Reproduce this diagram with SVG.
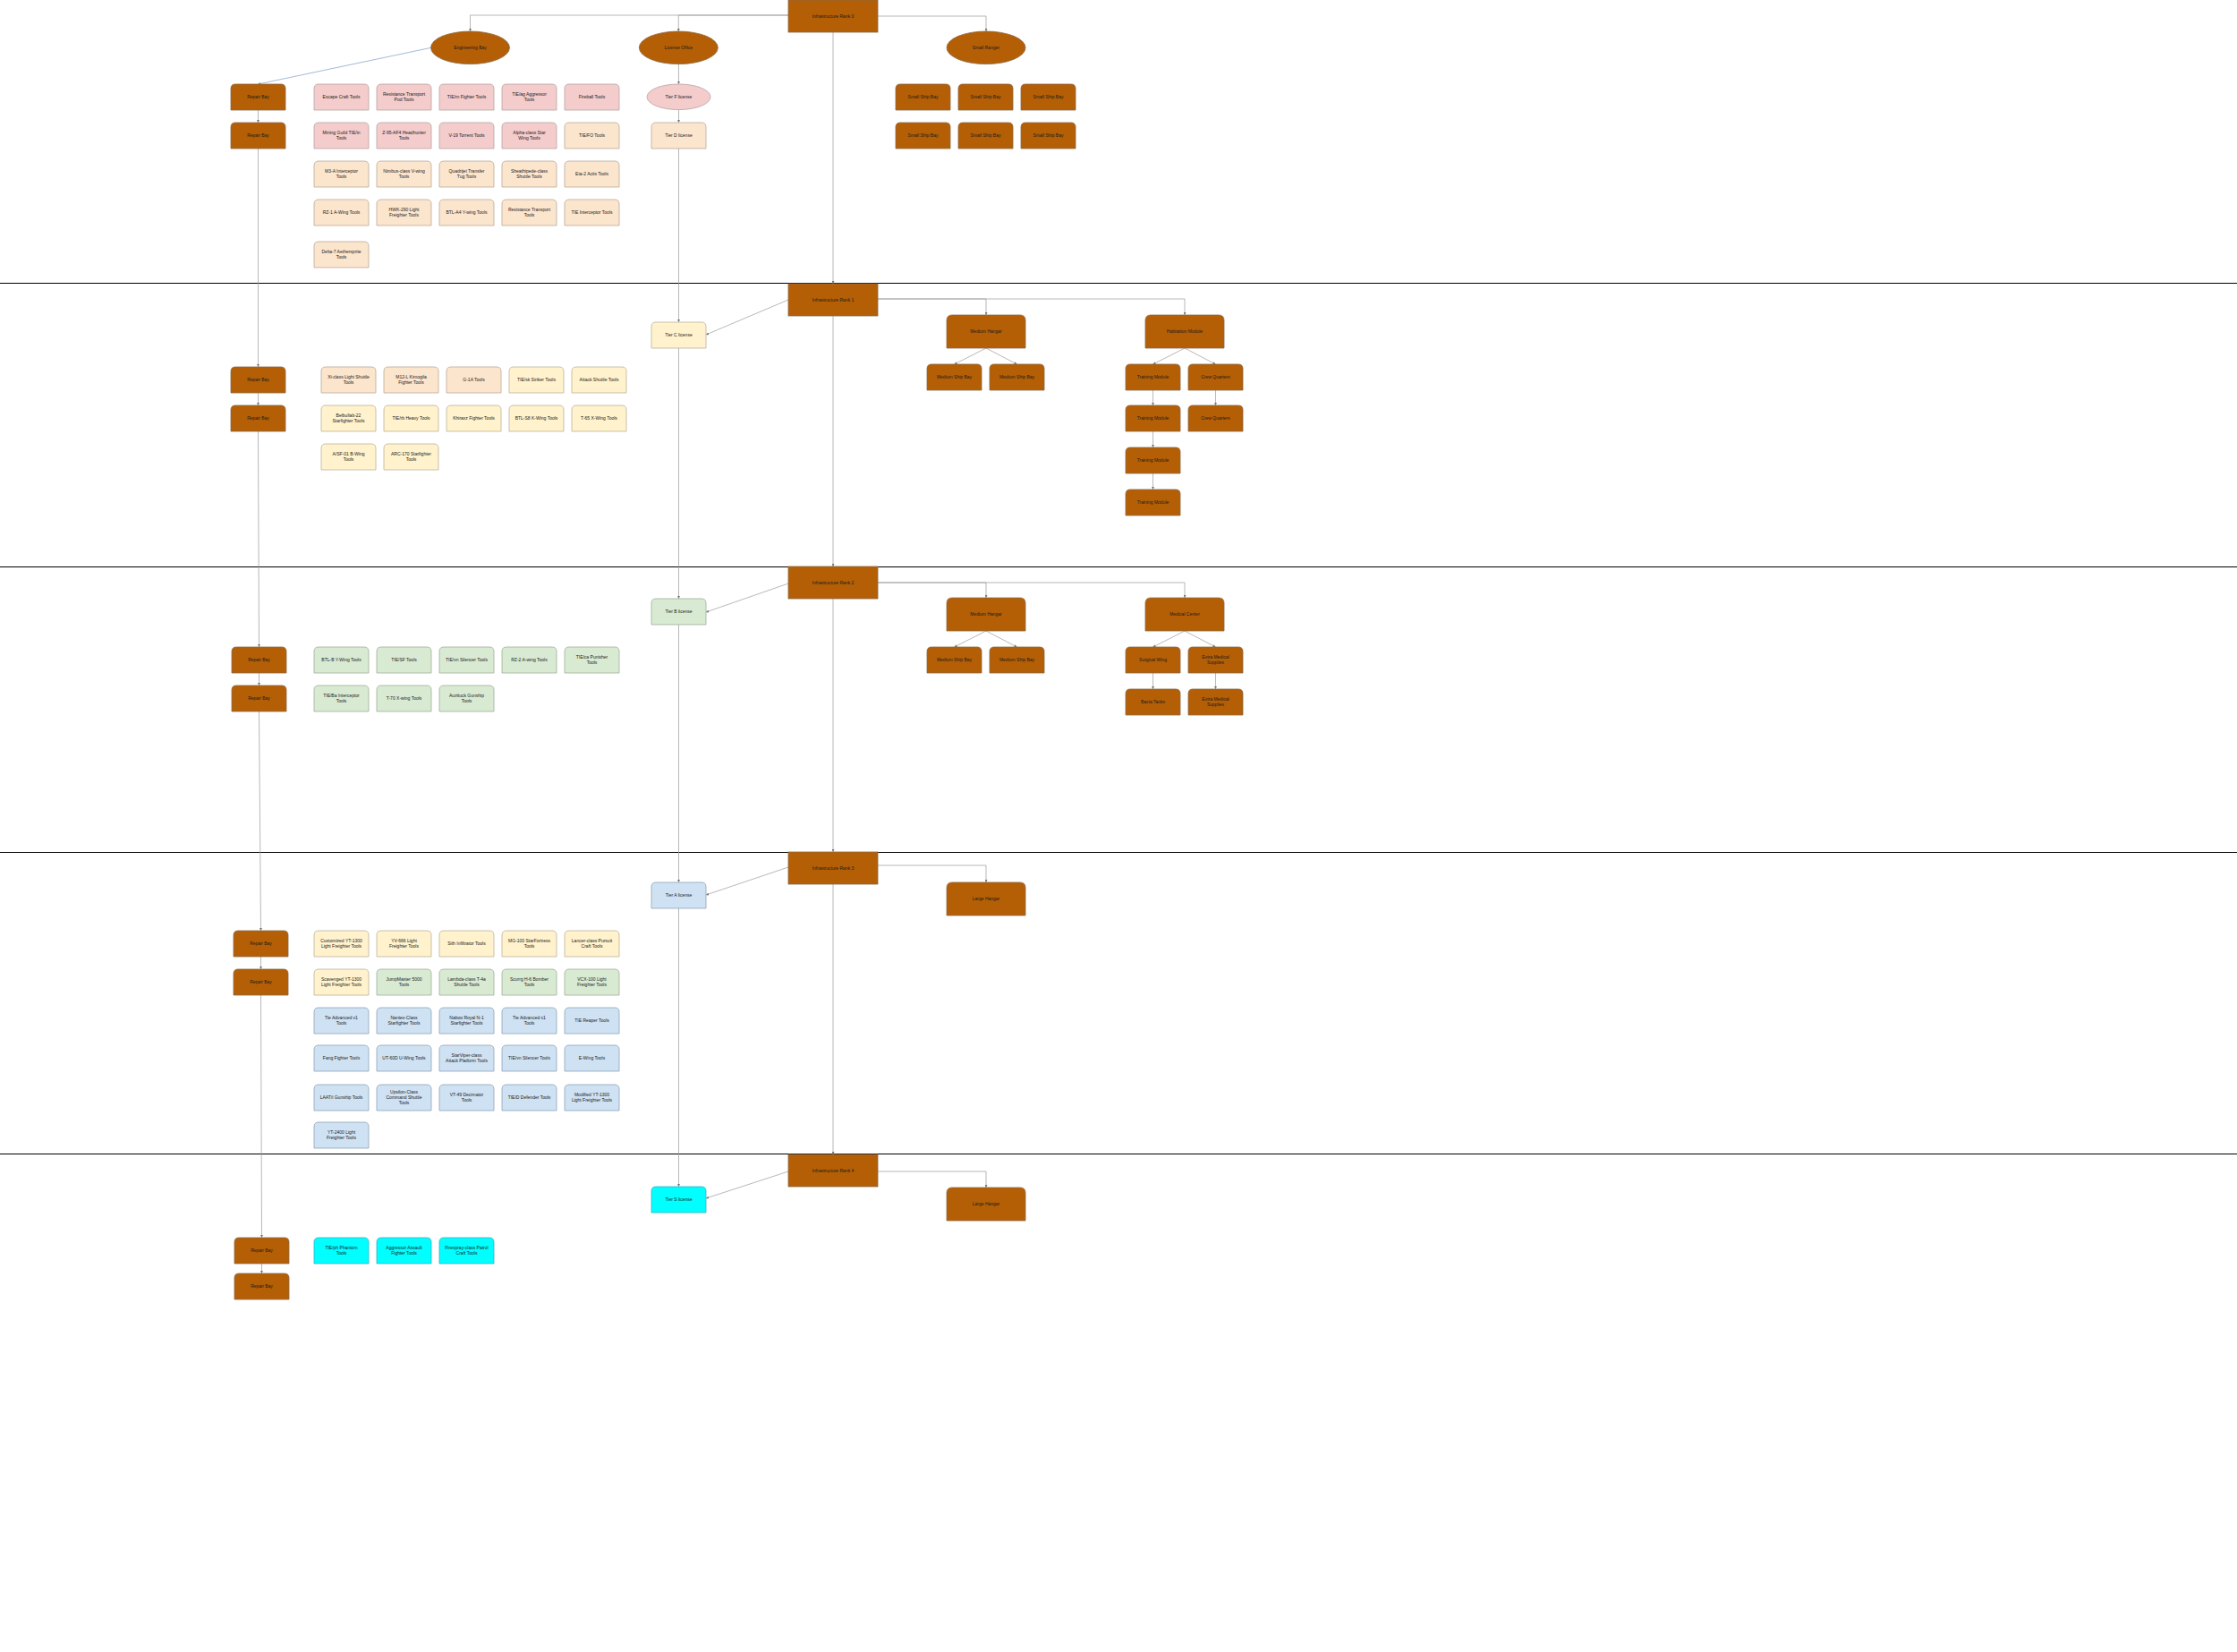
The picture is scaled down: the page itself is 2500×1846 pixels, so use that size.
<svg xmlns="http://www.w3.org/2000/svg" xmlns:xlink="http://www.w3.org/1999/xlink" width="2500" height="1846" viewBox="0 0 2500 1846">
<style>
.t{font-family:"Liberation Sans",Arial,sans-serif;font-size:5px;text-anchor:middle;fill:#1a1a1a}
.pk{fill:#f4cccc;stroke:#b8a3a3;stroke-width:0.8}
.pe{fill:#fce5cd;stroke:#b9aa99;stroke-width:0.8}
.ye{fill:#fff2cc;stroke:#bbb39a;stroke-width:0.8}
.gr{fill:#d9ead3;stroke:#9fae9a;stroke-width:0.8}
.bl{fill:#cfe2f3;stroke:#8fa3b8;stroke-width:0.8}
.cy{fill:#00ffff;stroke:#3ab0c0;stroke-width:0.8}
.br{fill:#b45f06;stroke:#8a6a4a;stroke-width:0.8}
.c{fill:none;stroke:#9a9a9a;stroke-width:0.7;marker-end:url(#a)}
.cb{fill:none;stroke:#7a9cc6;stroke-width:0.7;marker-end:url(#a)}
.sec{stroke:#000;stroke-width:1}
</style>
<defs>
<path id="tb" d="M0,29V5Q0,0 5,0H56Q61,0 61,5V29Z"/>
<path id="hb" d="M0,37V6Q0,0 6,0H82Q88,0 88,6V37Z"/>
<marker id="a" markerUnits="userSpaceOnUse" markerWidth="3" markerHeight="3" refX="3" refY="1.5" orient="auto"><path d="M0,0L3,1.5L0,3Z" fill="#777"/></marker>
</defs>
<rect width="2500" height="1846" fill="#fff"/>
<g id="sections">
<line class="sec" x1="0" y1="316.5" x2="2500" y2="316.5"/>
<line class="sec" x1="0" y1="633.5" x2="2500" y2="633.5"/>
<line class="sec" x1="0" y1="952.5" x2="2500" y2="952.5"/>
<line class="sec" x1="0" y1="1289.5" x2="2500" y2="1289.5"/>
</g>
<g id="connectors">
<polyline class="c" points="881,17 525.5,17 525.5,35"/>
<polyline class="c" points="881,17 758.3,17 758.3,35"/>
<polyline class="c" points="981,18 1102,18 1102,35"/>
<line class="cb" x1="481.7" y1="53.3" x2="288.5" y2="94"/>
<line class="c" x1="288.5" y1="123" x2="288.5" y2="137"/>
<line class="c" x1="288.5" y1="166" x2="288.5" y2="410"/>
<line class="c" x1="288.5" y1="439" x2="288.5" y2="453"/>
<line class="c" x1="288.5" y1="482" x2="289.5" y2="723"/>
<line class="c" x1="289.5" y1="752" x2="289.5" y2="766"/>
<line class="c" x1="289.5" y1="795" x2="291.5" y2="1040"/>
<line class="c" x1="291.5" y1="1069" x2="291.5" y2="1083"/>
<line class="c" x1="291.5" y1="1112" x2="292.5" y2="1383"/>
<line class="c" x1="292.5" y1="1412" x2="292.5" y2="1423"/>
<line class="c" x1="758.4" y1="71.7" x2="758.5" y2="94"/>
<line class="c" x1="758.5" y1="122.6" x2="758.5" y2="137"/>
<line class="c" x1="758.5" y1="166" x2="758.5" y2="360"/>
<line class="c" x1="758.5" y1="389" x2="758.5" y2="669"/>
<line class="c" x1="758.5" y1="698" x2="758.5" y2="986"/>
<line class="c" x1="758.5" y1="1015" x2="758.5" y2="1326"/>
<line class="c" x1="931" y1="36" x2="931" y2="317"/>
<line class="c" x1="931" y1="353" x2="931" y2="633"/>
<line class="c" x1="931" y1="669" x2="931" y2="952"/>
<line class="c" x1="931" y1="988" x2="931" y2="1290"/>
<line class="c" x1="881" y1="335" x2="789" y2="374"/>
<line class="c" x1="881" y1="652" x2="789" y2="684"/>
<line class="c" x1="881" y1="969" x2="789" y2="1000"/>
<line class="c" x1="881" y1="1309" x2="789" y2="1339"/>
<polyline class="c" points="981,334 1102,334 1102,352"/>
<polyline class="c" points="981,334 1324,334 1324,352"/>
<polyline class="c" points="981,651 1102,651 1102,668"/>
<polyline class="c" points="981,651 1324,651 1324,668"/>
<polyline class="c" points="981,967 1102,967 1102,986"/>
<polyline class="c" points="981,1309 1102,1309 1102,1327"/>
<line class="c" x1="1102" y1="389" x2="1066.5" y2="407"/>
<line class="c" x1="1102" y1="389" x2="1136.5" y2="407"/>
<line class="c" x1="1324" y1="389" x2="1288.5" y2="407"/>
<line class="c" x1="1324" y1="389" x2="1358.5" y2="407"/>
<line class="c" x1="1288.5" y1="436" x2="1288.5" y2="453"/>
<line class="c" x1="1288.5" y1="482" x2="1288.5" y2="500"/>
<line class="c" x1="1288.5" y1="529" x2="1288.5" y2="547"/>
<line class="c" x1="1358.5" y1="436" x2="1358.5" y2="453"/>
<line class="c" x1="1102" y1="705" x2="1066.5" y2="723"/>
<line class="c" x1="1102" y1="705" x2="1136.5" y2="723"/>
<line class="c" x1="1324" y1="705" x2="1288.5" y2="723"/>
<line class="c" x1="1324" y1="705" x2="1358.5" y2="723"/>
<line class="c" x1="1288.5" y1="752" x2="1288.5" y2="770"/>
<line class="c" x1="1358.5" y1="752" x2="1358.5" y2="770"/>
</g>

<!-- Rank 0 -->
<g id="rank0"><rect class="br" x="881" y="0" width="100" height="36"/><text class="t" x="931" y="19.8">Infrastructure Rank 0</text></g>
<g id="engineering-bay"><ellipse class="br" cx="525.5" cy="53.3" rx="44" ry="18.3"/><text class="t" x="525.5" y="55.1">Engineering Bay</text></g>
<g id="license-office"><ellipse class="br" cx="758.3" cy="53.3" rx="44" ry="18.3"/><text class="t" x="758.3" y="55.1">License Office</text></g>
<g id="small-ranger"><ellipse class="br" cx="1102" cy="53.3" rx="44" ry="18.3"/><text class="t" x="1102" y="55.1">Small Ranger</text></g>
<g id="tier-f"><ellipse class="pk" cx="758.5" cy="108.3" rx="35.5" ry="14.3"/><text class="t" x="758.5" y="110.1">Tier F license</text></g>
<g id="tier-d"><use href="#tb" x="728" y="137" class="pe"/><text class="t" x="758.5" y="153.3">Tier D license</text></g>
<g id="repair-0a"><use href="#tb" x="258" y="94" class="br"/><text class="t" x="288.5" y="110.3">Repair Bay</text></g>
<g id="repair-0b"><use href="#tb" x="258" y="137" class="br"/><text class="t" x="288.5" y="153.3">Repair Bay</text></g>
<g id="ssb-1"><use href="#tb" x="1001" y="94" class="br"/><text class="t" x="1031.5" y="110.3">Small Ship Bay</text></g>
<g id="ssb-2"><use href="#tb" x="1071" y="94" class="br"/><text class="t" x="1101.5" y="110.3">Small Ship Bay</text></g>
<g id="ssb-3"><use href="#tb" x="1141" y="94" class="br"/><text class="t" x="1171.5" y="110.3">Small Ship Bay</text></g>
<g id="ssb-4"><use href="#tb" x="1001" y="137" class="br"/><text class="t" x="1031.5" y="153.3">Small Ship Bay</text></g>
<g id="ssb-5"><use href="#tb" x="1071" y="137" class="br"/><text class="t" x="1101.5" y="153.3">Small Ship Bay</text></g>
<g id="ssb-6"><use href="#tb" x="1141" y="137" class="br"/><text class="t" x="1171.5" y="153.3">Small Ship Bay</text></g>

<g id="t0-1"><use href="#tb" x="351" y="94" class="pk"/><text class="t" x="381.5" y="110.3">Escape Craft Tools</text></g>
<g id="t0-2"><use href="#tb" x="421" y="94" class="pk"/><text class="t" x="451.5" y="107.3">Resistance Transport<tspan x="451.5" dy="6">Pod Tools</tspan></text></g>
<g id="t0-3"><use href="#tb" x="491" y="94" class="pk"/><text class="t" x="521.5" y="110.3">TIE/rn Fighter Tools</text></g>
<g id="t0-4"><use href="#tb" x="561" y="94" class="pk"/><text class="t" x="591.5" y="107.3">TIE/ag Aggressor<tspan x="591.5" dy="6">Tools</tspan></text></g>
<g id="t0-5"><use href="#tb" x="631" y="94" class="pk"/><text class="t" x="661.5" y="110.3">Fireball Tools</text></g>
<g id="t0-6"><use href="#tb" x="351" y="137" class="pk"/><text class="t" x="381.5" y="150.3">Mining Guild TIE/in<tspan x="381.5" dy="6">Tools</tspan></text></g>
<g id="t0-7"><use href="#tb" x="421" y="137" class="pk"/><text class="t" x="451.5" y="150.3">Z-95-AF4 Headhunter<tspan x="451.5" dy="6">Tools</tspan></text></g>
<g id="t0-8"><use href="#tb" x="491" y="137" class="pk"/><text class="t" x="521.5" y="153.3">V-19 Torrent Tools</text></g>
<g id="t0-9"><use href="#tb" x="561" y="137" class="pk"/><text class="t" x="591.5" y="150.3">Alpha-class Star<tspan x="591.5" dy="6">Wing Tools</tspan></text></g>
<g id="t0-10"><use href="#tb" x="631" y="137" class="pe"/><text class="t" x="661.5" y="153.3">TIE/FO Tools</text></g>
<g id="t0-11"><use href="#tb" x="351" y="180" class="pe"/><text class="t" x="381.5" y="193.3">M3-A Interceptor<tspan x="381.5" dy="6">Tools</tspan></text></g>
<g id="t0-12"><use href="#tb" x="421" y="180" class="pe"/><text class="t" x="451.5" y="193.3">Nimbus-class V-wing<tspan x="451.5" dy="6">Tools</tspan></text></g>
<g id="t0-13"><use href="#tb" x="491" y="180" class="pe"/><text class="t" x="521.5" y="193.3">Quadrijet Transfer<tspan x="521.5" dy="6">Tug Tools</tspan></text></g>
<g id="t0-14"><use href="#tb" x="561" y="180" class="pe"/><text class="t" x="591.5" y="193.3">Sheathipede-class<tspan x="591.5" dy="6">Shuttle Tools</tspan></text></g>
<g id="t0-15"><use href="#tb" x="631" y="180" class="pe"/><text class="t" x="661.5" y="196.3">Eta-2 Actis Tools</text></g>
<g id="t0-16"><use href="#tb" x="351" y="223" class="pe"/><text class="t" x="381.5" y="239.3">RZ-1 A-Wing Tools</text></g>
<g id="t0-17"><use href="#tb" x="421" y="223" class="pe"/><text class="t" x="451.5" y="236.3">HWK-290 Light<tspan x="451.5" dy="6">Freighter Tools</tspan></text></g>
<g id="t0-18"><use href="#tb" x="491" y="223" class="pe"/><text class="t" x="521.5" y="239.3">BTL-A4 Y-wing Tools</text></g>
<g id="t0-19"><use href="#tb" x="561" y="223" class="pe"/><text class="t" x="591.5" y="236.3">Resistance Transport<tspan x="591.5" dy="6">Tools</tspan></text></g>
<g id="t0-20"><use href="#tb" x="631" y="223" class="pe"/><text class="t" x="661.5" y="239.3">TIE Interceptor Tools</text></g>
<g id="t0-21"><use href="#tb" x="351" y="270" class="pe"/><text class="t" x="381.5" y="283.3">Delta-7 Aethersprite<tspan x="381.5" dy="6">Tools</tspan></text></g>

<!-- Rank 1 -->
<g id="rank1"><rect class="br" x="881" y="317" width="100" height="36"/><text class="t" x="931" y="336.8">Infrastructure Rank 1</text></g>
<g id="tier-c"><use href="#tb" x="728" y="360" class="ye"/><text class="t" x="758.5" y="376.3">Tier C license</text></g>
<g id="repair-1a"><use href="#tb" x="258" y="410" class="br"/><text class="t" x="288.5" y="426.3">Repair Bay</text></g>
<g id="repair-1b"><use href="#tb" x="258" y="453" class="br"/><text class="t" x="288.5" y="469.3">Repair Bay</text></g>
<g id="medium-hangar-1"><use href="#hb" x="1058" y="352" class="br"/><text class="t" x="1102" y="372.3">Medium Hangar</text></g>
<g id="habitation-module"><use href="#hb" x="1280" y="352" class="br"/><text class="t" x="1324" y="372.3">Habitation Module</text></g>
<g id="msb-1a"><use href="#tb" x="1036" y="407" class="br"/><text class="t" x="1066.5" y="423.3">Medium Ship Bay</text></g>
<g id="msb-1b"><use href="#tb" x="1106" y="407" class="br"/><text class="t" x="1136.5" y="423.3">Medium Ship Bay</text></g>
<g id="training-1"><use href="#tb" x="1258" y="407" class="br"/><text class="t" x="1288.5" y="423.3">Training Module</text></g>
<g id="training-2"><use href="#tb" x="1258" y="453" class="br"/><text class="t" x="1288.5" y="469.3">Training Module</text></g>
<g id="training-3"><use href="#tb" x="1258" y="500" class="br"/><text class="t" x="1288.5" y="516.3">Training Module</text></g>
<g id="training-4"><use href="#tb" x="1258" y="547" class="br"/><text class="t" x="1288.5" y="563.3">Training Module</text></g>
<g id="crew-1"><use href="#tb" x="1328" y="407" class="br"/><text class="t" x="1358.5" y="423.3">Crew Quarters</text></g>
<g id="crew-2"><use href="#tb" x="1328" y="453" class="br"/><text class="t" x="1358.5" y="469.3">Crew Quarters</text></g>

<g id="t1-1"><use href="#tb" x="359" y="410" class="pe"/><text class="t" x="389.5" y="423.3">Xi-class Light Shuttle<tspan x="389.5" dy="6">Tools</tspan></text></g>
<g id="t1-2"><use href="#tb" x="429" y="410" class="pe"/><text class="t" x="459.5" y="423.3">M12-L Kimogila<tspan x="459.5" dy="6">Fighter Tools</tspan></text></g>
<g id="t1-3"><use href="#tb" x="499" y="410" class="pe"/><text class="t" x="529.5" y="426.3">G-1A Tools</text></g>
<g id="t1-4"><use href="#tb" x="569" y="410" class="ye"/><text class="t" x="599.5" y="426.3">TIE/sk Striker Tools</text></g>
<g id="t1-5"><use href="#tb" x="639" y="410" class="ye"/><text class="t" x="669.5" y="426.3">Attack Shuttle Tools</text></g>
<g id="t1-6"><use href="#tb" x="359" y="453" class="ye"/><text class="t" x="389.5" y="466.3">Belbullab-22<tspan x="389.5" dy="6">Starfighter Tools</tspan></text></g>
<g id="t1-7"><use href="#tb" x="429" y="453" class="ye"/><text class="t" x="459.5" y="469.3">TIE/rb Heavy Tools</text></g>
<g id="t1-8"><use href="#tb" x="499" y="453" class="ye"/><text class="t" x="529.5" y="469.3">Khiraxz Fighter Tools</text></g>
<g id="t1-9"><use href="#tb" x="569" y="453" class="ye"/><text class="t" x="599.5" y="469.3">BTL-S8 K-Wing Tools</text></g>
<g id="t1-10"><use href="#tb" x="639" y="453" class="ye"/><text class="t" x="669.5" y="469.3">T-65 X-Wing Tools</text></g>
<g id="t1-11"><use href="#tb" x="359" y="496" class="ye"/><text class="t" x="389.5" y="509.3">A/SF-01 B-Wing<tspan x="389.5" dy="6">Tools</tspan></text></g>
<g id="t1-12"><use href="#tb" x="429" y="496" class="ye"/><text class="t" x="459.5" y="509.3">ARC-170 Starfighter<tspan x="459.5" dy="6">Tools</tspan></text></g>

<!-- Rank 2 -->
<g id="rank2"><rect class="br" x="881" y="633" width="100" height="36"/><text class="t" x="931" y="652.8">Infrastructure Rank 2</text></g>
<g id="tier-b"><use href="#tb" x="728" y="669" class="gr"/><text class="t" x="758.5" y="685.3">Tier B license</text></g>
<g id="repair-2a"><use href="#tb" x="259" y="723" class="br"/><text class="t" x="289.5" y="739.3">Repair Bay</text></g>
<g id="repair-2b"><use href="#tb" x="259" y="766" class="br"/><text class="t" x="289.5" y="782.3">Repair Bay</text></g>
<g id="medium-hangar-2"><use href="#hb" x="1058" y="668" class="br"/><text class="t" x="1102" y="688.3">Medium Hangar</text></g>
<g id="medical-center"><use href="#hb" x="1280" y="668" class="br"/><text class="t" x="1324" y="688.3">Medical Center</text></g>
<g id="msb-2a"><use href="#tb" x="1036" y="723" class="br"/><text class="t" x="1066.5" y="739.3">Medium Ship Bay</text></g>
<g id="msb-2b"><use href="#tb" x="1106" y="723" class="br"/><text class="t" x="1136.5" y="739.3">Medium Ship Bay</text></g>
<g id="surgical-wing"><use href="#tb" x="1258" y="723" class="br"/><text class="t" x="1288.5" y="739.3">Surgical Wing</text></g>
<g id="extra-med-1"><use href="#tb" x="1328" y="723" class="br"/><text class="t" x="1358.5" y="736.3">Extra Medical<tspan x="1358.5" dy="6">Supplies</tspan></text></g>
<g id="bacta-tanks"><use href="#tb" x="1258" y="770" class="br"/><text class="t" x="1288.5" y="786.3">Bacta Tanks</text></g>
<g id="extra-med-2"><use href="#tb" x="1328" y="770" class="br"/><text class="t" x="1358.5" y="783.3">Extra Medical<tspan x="1358.5" dy="6">Supplies</tspan></text></g>

<g id="t2-1"><use href="#tb" x="351" y="723" class="gr"/><text class="t" x="381.5" y="739.3">BTL-B Y-Wing Tools</text></g>
<g id="t2-2"><use href="#tb" x="421" y="723" class="gr"/><text class="t" x="451.5" y="739.3">TIE/SF Tools</text></g>
<g id="t2-3"><use href="#tb" x="491" y="723" class="gr"/><text class="t" x="521.5" y="739.3">TIE/vn Silencer Tools</text></g>
<g id="t2-4"><use href="#tb" x="561" y="723" class="gr"/><text class="t" x="591.5" y="739.3">RZ-2 A-wing Tools</text></g>
<g id="t2-5"><use href="#tb" x="631" y="723" class="gr"/><text class="t" x="661.5" y="736.3">TIE/ca Punisher<tspan x="661.5" dy="6">Tools</tspan></text></g>
<g id="t2-6"><use href="#tb" x="351" y="766" class="gr"/><text class="t" x="381.5" y="779.3">TIE/Ba Interceptor<tspan x="381.5" dy="6">Tools</tspan></text></g>
<g id="t2-7"><use href="#tb" x="421" y="766" class="gr"/><text class="t" x="451.5" y="782.3">T-70 X-wing Tools</text></g>
<g id="t2-8"><use href="#tb" x="491" y="766" class="gr"/><text class="t" x="521.5" y="779.3">Auzituck Gunship<tspan x="521.5" dy="6">Tools</tspan></text></g>

<!-- Rank 3 -->
<g id="rank3"><rect class="br" x="881" y="952" width="100" height="36"/><text class="t" x="931" y="971.8">Infrastructure Rank 3</text></g>
<g id="tier-a"><use href="#tb" x="728" y="986" class="bl"/><text class="t" x="758.5" y="1002.3">Tier A license</text></g>
<g id="large-hangar-3"><use href="#hb" x="1058" y="986" class="br"/><text class="t" x="1102" y="1006.3">Large Hangar</text></g>
<g id="repair-3a"><use href="#tb" x="261" y="1040" class="br"/><text class="t" x="291.5" y="1056.3">Repair Bay</text></g>
<g id="repair-3b"><use href="#tb" x="261" y="1083" class="br"/><text class="t" x="291.5" y="1099.3">Repair Bay</text></g>

<g id="t3-1"><use href="#tb" x="351" y="1040" class="ye"/><text class="t" x="381.5" y="1053.3">Customized YT-1300<tspan x="381.5" dy="6">Light Freighter Tools</tspan></text></g>
<g id="t3-2"><use href="#tb" x="421" y="1040" class="ye"/><text class="t" x="451.5" y="1053.3">YV-666 Light<tspan x="451.5" dy="6">Freighter  Tools</tspan></text></g>
<g id="t3-3"><use href="#tb" x="491" y="1040" class="ye"/><text class="t" x="521.5" y="1056.3">Sith Infiltrator Tools</text></g>
<g id="t3-4"><use href="#tb" x="561" y="1040" class="ye"/><text class="t" x="591.5" y="1053.3">MG-100 StarFortress<tspan x="591.5" dy="6">Tools</tspan></text></g>
<g id="t3-5"><use href="#tb" x="631" y="1040" class="ye"/><text class="t" x="661.5" y="1053.3">Lancer-class Pursuit<tspan x="661.5" dy="6">Craft Tools</tspan></text></g>
<g id="t3-6"><use href="#tb" x="351" y="1083" class="ye"/><text class="t" x="381.5" y="1096.3">Scavenged YT-1300<tspan x="381.5" dy="6">Light Freighter Tools</tspan></text></g>
<g id="t3-7"><use href="#tb" x="421" y="1083" class="gr"/><text class="t" x="451.5" y="1096.3">JumpMaster 5000<tspan x="451.5" dy="6">Tools</tspan></text></g>
<g id="t3-8"><use href="#tb" x="491" y="1083" class="gr"/><text class="t" x="521.5" y="1096.3">Lambda-class T-4a<tspan x="521.5" dy="6">Shuttle Tools</tspan></text></g>
<g id="t3-9"><use href="#tb" x="561" y="1083" class="gr"/><text class="t" x="591.5" y="1096.3">Scurrg H-6 Bomber<tspan x="591.5" dy="6">Tools</tspan></text></g>
<g id="t3-10"><use href="#tb" x="631" y="1083" class="gr"/><text class="t" x="661.5" y="1096.3">VCX-100 Light<tspan x="661.5" dy="6">Freighter Tools</tspan></text></g>
<g id="t3-11"><use href="#tb" x="351" y="1126" class="bl"/><text class="t" x="381.5" y="1139.3">Tie Advanced v1<tspan x="381.5" dy="6">Tools</tspan></text></g>
<g id="t3-12"><use href="#tb" x="421" y="1126" class="bl"/><text class="t" x="451.5" y="1139.3">Nantex-Class<tspan x="451.5" dy="6">Starfighter Tools</tspan></text></g>
<g id="t3-13"><use href="#tb" x="491" y="1126" class="bl"/><text class="t" x="521.5" y="1139.3">Naboo Royal N-1<tspan x="521.5" dy="6">Starfighter Tools</tspan></text></g>
<g id="t3-14"><use href="#tb" x="561" y="1126" class="bl"/><text class="t" x="591.5" y="1139.3">Tie Advanced x1<tspan x="591.5" dy="6">Tools</tspan></text></g>
<g id="t3-15"><use href="#tb" x="631" y="1126" class="bl"/><text class="t" x="661.5" y="1142.3">TIE Reaper Tools</text></g>
<g id="t3-16"><use href="#tb" x="351" y="1168" class="bl"/><text class="t" x="381.5" y="1184.3">Fang Fighter Tools</text></g>
<g id="t3-17"><use href="#tb" x="421" y="1168" class="bl"/><text class="t" x="451.5" y="1184.3">UT-60D U-Wing Tools</text></g>
<g id="t3-18"><use href="#tb" x="491" y="1168" class="bl"/><text class="t" x="521.5" y="1181.3">StarViper-class<tspan x="521.5" dy="6">Attack Platform Tools</tspan></text></g>
<g id="t3-19"><use href="#tb" x="561" y="1168" class="bl"/><text class="t" x="591.5" y="1184.3">TIE/vn Silencer Tools</text></g>
<g id="t3-20"><use href="#tb" x="631" y="1168" class="bl"/><text class="t" x="661.5" y="1184.3">E-Wing Tools</text></g>
<g id="t3-21"><use href="#tb" x="351" y="1212" class="bl"/><text class="t" x="381.5" y="1228.3">LAAT/i Gunship Tools</text></g>
<g id="t3-22"><use href="#tb" x="421" y="1212" class="bl"/><text class="t" x="451.5" y="1222.3">Upsilon-Class<tspan x="451.5" dy="6">Command Shuttle</tspan><tspan x="451.5" dy="6">Tools</tspan></text></g>
<g id="t3-23"><use href="#tb" x="491" y="1212" class="bl"/><text class="t" x="521.5" y="1225.3">VT-49 Decimator<tspan x="521.5" dy="6">Tools</tspan></text></g>
<g id="t3-24"><use href="#tb" x="561" y="1212" class="bl"/><text class="t" x="591.5" y="1228.3">TIE/D Defender Tools</text></g>
<g id="t3-25"><use href="#tb" x="631" y="1212" class="bl"/><text class="t" x="661.5" y="1225.3">Modified YT-1300<tspan x="661.5" dy="6">Light Freighter Tools</tspan></text></g>
<g id="t3-26"><use href="#tb" x="351" y="1254" class="bl"/><text class="t" x="381.5" y="1267.3">YT-2400 Light<tspan x="381.5" dy="6">Freighter Tools</tspan></text></g>

<!-- Rank 4 -->
<g id="rank4"><rect class="br" x="881" y="1290" width="100" height="36"/><text class="t" x="931" y="1309.8">Infrastructure Rank 4</text></g>
<g id="tier-s"><use href="#tb" x="728" y="1326" class="cy"/><text class="t" x="758.5" y="1342.3">Tier S license</text></g>
<g id="large-hangar-4"><use href="#hb" x="1058" y="1327" class="br"/><text class="t" x="1102" y="1347.3">Large Hangar</text></g>
<g id="repair-4a"><use href="#tb" x="262" y="1383" class="br"/><text class="t" x="292.5" y="1399.3">Repair Bay</text></g>
<g id="repair-4b"><use href="#tb" x="262" y="1423" class="br"/><text class="t" x="292.5" y="1439.3">Repair Bay</text></g>
<g id="t4-1"><use href="#tb" x="351" y="1383" class="cy"/><text class="t" x="381.5" y="1396.3">TIE/ph Phantom<tspan x="381.5" dy="6">Tools</tspan></text></g>
<g id="t4-2"><use href="#tb" x="421" y="1383" class="cy"/><text class="t" x="451.5" y="1396.3">Aggressor Assault<tspan x="451.5" dy="6">Fighter Tools</tspan></text></g>
<g id="t4-3"><use href="#tb" x="491" y="1383" class="cy"/><text class="t" x="521.5" y="1396.3">Firespray-class Patrol<tspan x="521.5" dy="6">Craft Tools</tspan></text></g>
</svg>
